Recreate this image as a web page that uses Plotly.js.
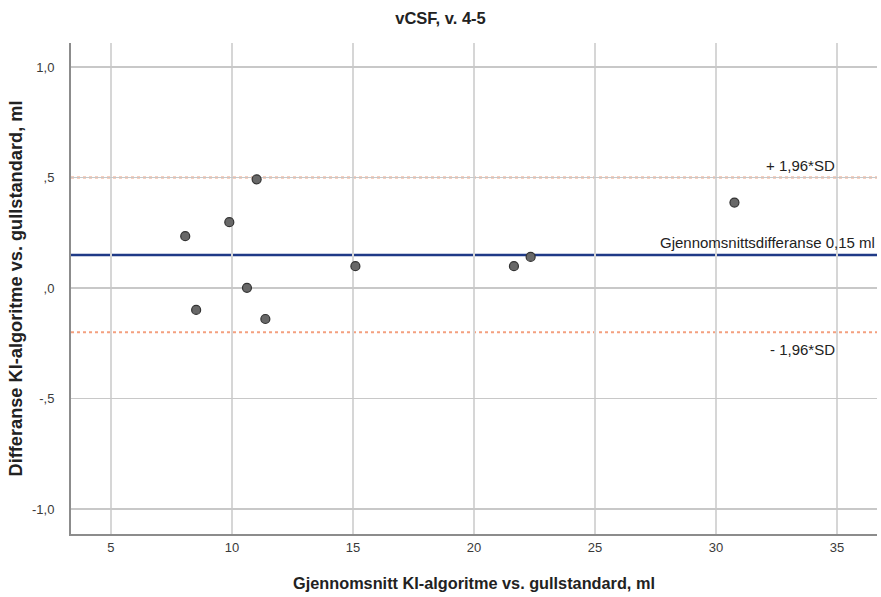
<!DOCTYPE html>
<html>
<head>
<meta charset="utf-8">
<script src="https://cdn.plot.ly/plotly-3.0.1.min.js"></script>
<style>
  html, body { margin: 0; padding: 0; background: #fff; }
  #chart { width: 881px; height: 597px; }
</style>
</head>
<body>
<div id="chart"></div>
<script>
// Bland-Altman: mean of the two methods vs. their difference (ml)
const meanValues = [8.07, 8.52, 9.89, 10.62, 11.02, 11.38, 15.10, 21.65, 22.34, 30.76];
const diffValues = [0.235, -0.099, 0.298, 0.001, 0.492, -0.140, 0.099, 0.099, 0.141, 0.387];

// Mean difference and limits of agreement
const meanDiff = 0.15;
const upperLoA = 0.50;
const lowerLoA = -0.20;

const xTickVals = [5, 10, 15, 20, 25, 30, 35];
const yTickVals = [1.0, 0.5, 0.0, -0.5, -1.0];
const yTickText = ['1,0', ',5', ',0', '-,5', '-1,0'];

const narrow = '"Liberation Sans Narrow", "Arial Narrow", "Liberation Sans", Arial, sans-serif';
const sans = '"Liberation Sans", Arial, sans-serif';

const points = {
  x: meanValues,
  y: diffValues,
  type: 'scatter',
  mode: 'markers',
  marker: { size: 9, color: '#686868', line: { color: '#333333', width: 1.2 } },
  hoverinfo: 'x+y',
  showlegend: false
};

function hline(y, color, width, dash) {
  return {
    type: 'line', xref: 'paper', x0: 0, x1: 1, yref: 'y', y0: y, y1: y,
    line: { color: color, width: width, dash: dash }, layer: 'below'
  };
}

const layout = {
  width: 881,
  height: 597,
  margin: { l: 71, r: 4, t: 43, b: 63 },
  paper_bgcolor: '#ffffff',
  plot_bgcolor: '#ffffff',
  title: {
    text: '<b>vCSF, v. 4-5</b>',
    font: { family: narrow, size: 16.5, color: '#222222' },
    x: 0.5, xanchor: 'center', y: 0.97, yanchor: 'middle'
  },
  xaxis: {
    range: [3.35, 36.65],
    tickvals: xTickVals,
    ticktext: xTickVals.map(String),
    showgrid: true,
    gridcolor: '#d6d6d6',
    gridwidth: 2,
    zeroline: false,
    showline: true,
    linecolor: '#8c8c8c',
    linewidth: 2,
    ticks: '',
    tickfont: { family: narrow, size: 13, color: '#3a3a3a' },
    title: {
      text: '<b>Gjennomsnitt KI-algoritme vs. gullstandard, ml</b>',
      font: { family: narrow, size: 16.3, color: '#222222' },
      standoff: 24
    }
  },
  yaxis: {
    range: [-1.113, 1.109],
    tickvals: yTickVals,
    ticktext: yTickText,
    showgrid: true,
    gridcolor: '#c8c8c8',
    gridwidth: 1.5,
    zeroline: false,
    showline: true,
    linecolor: '#8c8c8c',
    linewidth: 2,
    ticks: '',
    ticklabelstandoff: 12,
    tickfont: { family: narrow, size: 13, color: '#3a3a3a' },
    title: {
      text: '<b>Differanse KI-algoritme vs. gullstandard, ml</b>',
      font: { family: sans, size: 18.2, color: '#222222' },
      standoff: 5
    }
  },
  shapes: [
    hline(upperLoA, '#f4a07f', 2, 'dot'),
    hline(lowerLoA, '#f4a07f', 2, 'dot'),
    hline(meanDiff, '#1f3a87', 2.5, 'solid')
  ],
  annotations: [
    {
      xref: 'x', x: 35, yref: 'y', y: upperLoA, xanchor: 'right', yanchor: 'bottom',
      yshift: 2, text: '+ 1,96*SD', showarrow: false,
      font: { family: narrow, size: 15, color: '#222222' }
    },
    {
      xref: 'paper', x: 1, yref: 'y', y: meanDiff, xanchor: 'right', yanchor: 'bottom',
      yshift: 2, text: 'Gjennomsnittsdifferanse 0,15 ml', showarrow: false,
      font: { family: narrow, size: 15, color: '#222222' }
    },
    {
      xref: 'x', x: 35, yref: 'y', y: lowerLoA, xanchor: 'right', yanchor: 'top',
      yshift: -7, text: '- 1,96*SD', showarrow: false,
      font: { family: narrow, size: 15, color: '#222222' }
    }
  ]
};

Plotly.newPlot('chart', [points], layout, { displayModeBar: false, staticPlot: true });
</script>
</body>
</html>
